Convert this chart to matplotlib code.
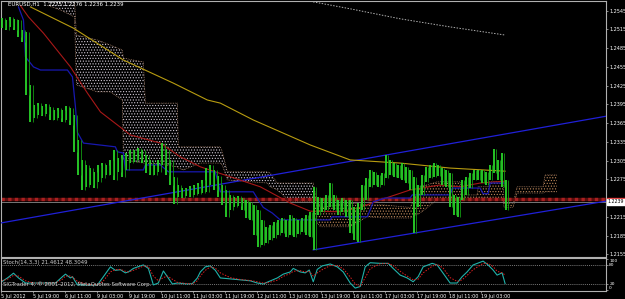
import numpy as np
import matplotlib
matplotlib.use('Agg')
import matplotlib.pyplot as plt
import matplotlib.transforms as mtransforms
from matplotlib.patches import Rectangle

plt.rcParams['hatch.linewidth'] = 0.5
plt.rcParams['font.family'] = ['Liberation Sans Narrow', 'DejaVu Sans']

# EURUSD H1, 5 Jul 2012 03:00 .. 19 Jul 2012, one entry per 2 hourly bars
highs = [1.2533, 1.2530, 1.2535, 1.2532, 1.2530, 1.2514, 1.2511, 1.2426, 1.2394, 1.2397,
         1.2392, 1.2396, 1.2391, 1.2386, 1.2389, 1.2386, 1.2392, 1.2389, 1.2378, 1.2338,
         1.2306, 1.2298, 1.2293, 1.2287, 1.2298, 1.2301, 1.2298, 1.2306, 1.2322, 1.2309,
         1.2314, 1.2317, 1.2322, 1.2322, 1.2325, 1.2322, 1.2314, 1.2306, 1.2298, 1.2306,
         1.2333, 1.2322, 1.2306, 1.2279, 1.2266, 1.2261, 1.2261, 1.2264, 1.2266, 1.2269,
         1.2274, 1.2293, 1.2298, 1.2290, 1.2280, 1.2266, 1.2258, 1.2250, 1.2247, 1.2248,
         1.2245, 1.2242, 1.2239, 1.2234, 1.2226, 1.2210, 1.2199, 1.2202, 1.2207, 1.2210,
         1.2213, 1.2210, 1.2218, 1.2213, 1.2210, 1.2213, 1.2218, 1.2223, 1.2263, 1.2247,
         1.2245, 1.2250, 1.2269, 1.2250, 1.2242, 1.2245, 1.2242, 1.2242, 1.2230, 1.2237,
         1.2266, 1.2277, 1.2290, 1.2287, 1.2282, 1.2285, 1.2314, 1.2306, 1.2301, 1.2298,
         1.2301, 1.2295, 1.2290, 1.2279, 1.2266, 1.2282, 1.2295, 1.2298, 1.2301, 1.2298,
         1.2293, 1.2290, 1.2285, 1.2250, 1.2247, 1.2274, 1.2279, 1.2285, 1.2290, 1.2290,
         1.2290, 1.2287, 1.2298, 1.2324, 1.2306, 1.2317, 1.2274]
lows = [1.2517, 1.2514, 1.2519, 1.2514, 1.2503, 1.2495, 1.2410, 1.2367, 1.2373, 1.2378,
        1.2376, 1.2380, 1.2370, 1.2370, 1.2373, 1.2367, 1.2370, 1.2362, 1.2319, 1.2282,
        1.2258, 1.2263, 1.2266, 1.2261, 1.2271, 1.2277, 1.2282, 1.2282, 1.2274, 1.2287,
        1.2279, 1.2290, 1.2301, 1.2303, 1.2306, 1.2301, 1.2285, 1.2282, 1.2282, 1.2287,
        1.2298, 1.2282, 1.2266, 1.2235, 1.2247, 1.2245, 1.2248, 1.2247, 1.2250, 1.2252,
        1.2253, 1.2255, 1.2266, 1.2258, 1.2247, 1.2234, 1.2215, 1.2226, 1.2230, 1.2232,
        1.2226, 1.2213, 1.2210, 1.2186, 1.2167, 1.2170, 1.2173, 1.2178, 1.2181, 1.2186,
        1.2189, 1.2183, 1.2186, 1.2183, 1.2188, 1.2191, 1.2186, 1.2183, 1.2162, 1.2218,
        1.2223, 1.2226, 1.2230, 1.2226, 1.2218, 1.2223, 1.2215, 1.2189, 1.2178, 1.2175,
        1.2226, 1.2242, 1.2263, 1.2266, 1.2263, 1.2266, 1.2277, 1.2282, 1.2279, 1.2277,
        1.2274, 1.2269, 1.2258, 1.2189, 1.2230, 1.2250, 1.2271, 1.2277, 1.2279, 1.2280,
        1.2266, 1.2263, 1.2230, 1.2218, 1.2215, 1.2242, 1.2250, 1.2261, 1.2274, 1.2274,
        1.2269, 1.2266, 1.2274, 1.2285, 1.2274, 1.2263, 1.2226]
last_close = 1.2239
hline_price = 1.2243

# moving averages (hour index, price)
ma_slow_h = [14.5, 36, 61, 86, 103, 109.5, 126, 154.5, 174.5, 199.5, 224.5, 241, 252]
ma_slow_p = [1.2551, 1.2517, 1.2466, 1.2429, 1.2402, 1.2397, 1.2370, 1.2330, 1.2306,
             1.2301, 1.2293, 1.2290, 1.2288]
ma_fast_h = [9.5, 13.5, 21, 34.5, 43, 49.5, 64.5, 79.5, 89.5, 99.5, 114.5, 129.5, 144.5,
             154.5, 169.5, 179.5, 189.5, 204.5, 219.5, 229.5, 239.5, 252]
ma_fast_p = [1.2553, 1.2535, 1.2509, 1.2455, 1.2413, 1.2383, 1.2346, 1.2333, 1.2311,
             1.2295, 1.2279, 1.2263, 1.2237, 1.2224, 1.2223, 1.2230, 1.2242, 1.2258,
             1.2266, 1.2263, 1.2269, 1.2272]
ma_long_h = [154.5, 174.5, 199.5, 224.5, 252]
ma_long_p = [1.2560, 1.2548, 1.2532, 1.2519, 1.2506]

# kijun-sen (step line)
kijun_h = [8.5, 11, 12, 16, 19.5, 33, 35.5, 37, 38, 41, 57, 58, 61, 62, 71, 72, 79.5, 83.5,
           107, 109.5, 126, 128.5, 131, 135.5, 139.5, 164.5, 165.5, 183, 184.5, 186, 192,
           204.5, 205.5, 224.5, 225.5, 239.5, 241, 243.5, 244.5, 252]
kijun_p = [1.2551, 1.2530, 1.2471, 1.2455, 1.2450, 1.2450, 1.2439, 1.2391, 1.2350, 1.2333,
           1.2327, 1.2319, 1.2317, 1.2290, 1.2290, 1.2298, 1.2298, 1.2287, 1.2287, 1.2255,
           1.2255, 1.2242, 1.2230, 1.2221, 1.2210, 1.2210, 1.2215, 1.2215, 1.2226, 1.2239,
           1.2245, 1.2245, 1.2250, 1.2250, 1.2261, 1.2261, 1.2252, 1.2252, 1.2269, 1.2269]

# ichimoku cloud
cloud_h = [23.5, 29.5, 36.5, 37.5, 48, 54.5, 60.5, 61, 71, 72, 82, 88, 88.5, 91, 99.5,
           109.5, 110.5, 113, 133, 134.5, 138, 144.5, 156, 157, 159.5, 174.5, 183, 191,
           204.5, 209.5, 218, 229.5, 230, 238, 238.5, 243.5, 244, 251, 251.5, 256, 258,
           271, 272, 278]
cloud_top = [1.2565, 1.2565, 1.2565, 1.2506, 1.2498, 1.2490, 1.2482, 1.2469, 1.2463, 1.2397,
             1.2397, 1.2397, 1.2327, 1.2327, 1.2327, 1.2327, 1.2319, 1.2287, 1.2287, 1.2285,
             1.2269, 1.2269, 1.2269, 1.2253, 1.2230, 1.2237, 1.2234, 1.2234, 1.2230, 1.2263,
             1.2271, 1.2271, 1.2250, 1.2250, 1.2263, 1.2263, 1.2271, 1.2271, 1.2237, 1.2237,
             1.2263, 1.2263, 1.2282, 1.2282]
cloud_bot = [1.2553, 1.2546, 1.2535, 1.2426, 1.2415, 1.2415, 1.2402, 1.2306, 1.2301, 1.2301,
             1.2298, 1.2295, 1.2293, 1.2290, 1.2301, 1.2301, 1.2298, 1.2274, 1.2269, 1.2263,
             1.2258, 1.2239, 1.2239, 1.2210, 1.2199, 1.2199, 1.2215, 1.2213, 1.2213, 1.2221,
             1.2242, 1.2242, 1.2242, 1.2242, 1.2245, 1.2245, 1.2242, 1.2242, 1.2230, 1.2230,
             1.2253, 1.2253, 1.2255, 1.2255]
cloud_switch = 156

# trend channel (hour index, price)
upper_line_h = [-0.5, 302.5]
upper_line_p = [1.2205, 1.2376]
lower_line_h = [156, 302.5]
lower_line_p = [1.2162, 1.2240]

# stochastic (14,3,3)
stoch_h = [0, 3, 6, 8.5, 12, 16, 23, 27, 30.5, 32, 34.5, 35.5, 38, 43, 48, 51, 54.5, 57,
           59.5, 62, 63.5, 66, 69.5, 71, 73.5, 76, 78.5, 81, 83, 85.5, 88, 93, 95.5, 98,
           99.5, 102, 104.5, 107, 109.5, 114.5, 119.5, 124.5, 128, 131, 133.5, 138, 141,
           144.5, 146, 149.5, 152, 154, 156, 158, 160.5, 164.5, 168, 171, 174.5, 177, 179.5,
           182, 184.5, 189.5, 193.5, 196, 199.5, 203, 206, 208.5, 211, 215.5, 218, 221,
           224.5, 228, 230.5, 233, 236, 241, 243.5, 246, 248, 250.5, 252]
stoch_main = [27, 39, 54, 39, 23, 23, 23, 23, 43, 51, 39, 43, 17, 17, 17, 43, 74, 63, 65,
              55, 58, 69, 77, 80, 69, 17, 23, 61, 43, 20, 23, 20, 21, 39, 58, 74, 77, 63,
              39, 36, 33, 30, 23, 20, 27, 39, 51, 58, 69, 58, 55, 64, 27, 66, 77, 83, 74,
              58, 23, 7, 12, 74, 87, 85, 85, 69, 48, 39, 27, 43, 74, 85, 80, 54, 23, 23, 43,
              58, 80, 92, 80, 64, 48, 55, 21.5]
stoch_signal = [30, 35, 47, 45, 30, 23, 23, 23, 35, 45, 45, 42, 28, 18, 17, 30, 58, 65, 66,
                60, 58, 63, 72, 77, 75, 45, 30, 40, 45, 35, 25, 21, 20, 30, 45, 63, 74, 70,
                55, 40, 34, 31, 27, 23, 24, 32, 44, 53, 60, 62, 58, 60, 45, 55, 65, 78, 78,
                68, 42, 20, 12, 40, 68, 84, 85, 78, 60, 45, 33, 35, 55, 76, 82, 70, 40, 28,
                33, 47, 65, 85, 85, 75, 60, 55, 48.3]

price_ticks = [1.2155, 1.2185, 1.2215, 1.2245, 1.2275, 1.2305, 1.2335, 1.2365, 1.2395,
               1.2425, 1.2455, 1.2485, 1.2515, 1.2545]
time_labels = ['5 Jul 2012', '5 Jul 19:00', '6 Jul 11:00', '9 Jul 03:00', '9 Jul 19:00',
               '10 Jul 11:00', '11 Jul 03:00', '11 Jul 19:00', '12 Jul 11:00',
               '13 Jul 03:00', '13 Jul 19:00', '16 Jul 11:00', '17 Jul 03:00',
               '17 Jul 19:00', '18 Jul 11:00', '19 Jul 03:00']

W, H = 625, 299
fig = plt.figure(figsize=(W / 100, H / 100), dpi=100, facecolor='black')
ax = fig.add_axes([0.5 / W, (H - 256.5) / H, 605.5 / W, 256 / H], facecolor='black')
ax2 = fig.add_axes([0.5 / W, (H - 290.5) / H, 605.5 / W, 32.5 / H], facecolor='black')

fs = 3.9
for a in (ax, ax2):
    a.set_xlim(-0.5, 302.5)
    for s in a.spines.values():
        s.set_color('#b0b0b0')
        s.set_linewidth(0.8)
    a.yaxis.tick_right()
    a.tick_params(colors='#c0c0c0', labelcolor='white', labelsize=3.5, length=1.5,
                  width=0.5, pad=0.8)

ax.set_ylim(1.21514, 1.25613)
ax.set_xticks([])
# the 1.2245 label sits under the price boxes
ax.set_yticks(price_ticks, ['' if t == 1.2245 else f'{t:.4f}' for t in price_ticks])

# ichimoku cloud
ch = np.array(cloud_h)
ct = np.array(cloud_top)
cb = np.array(cloud_bot)
ax.fill_between(ch, cb, ct, where=ch <= cloud_switch, interpolate=True, facecolor='none',
                edgecolor='#d0c8d4', hatch='......', linewidth=0, zorder=1)
ax.fill_between(ch, cb, ct, where=ch >= cloud_switch, interpolate=True, facecolor='none',
                edgecolor='#c08a5c', hatch='......', linewidth=0, zorder=1)
ax.plot(ch, ct, color='#c09070', lw=0.5, ls=(0, (1, 1.5)), zorder=1)
ax.plot(ch, cb, color='#c09070', lw=0.5, ls=(0, (1, 1.5)), zorder=1)

# horizontal level and bid line
ax.axhline(hline_price, color='#5a0c0c', lw=2.4, zorder=2)
ax.axhline(hline_price, color='#a82020', lw=2.4, ls=(0, (1, 1)), zorder=2)
ax.axhline(last_close, color='#8a8a8a', lw=0.6, zorder=2)

# channel, averages
ax.plot(upper_line_h, upper_line_p, color='#2020d8', lw=0.9, zorder=3)
ax.plot(lower_line_h, lower_line_p, color='#2020d8', lw=0.9, zorder=3)
ax.plot(ma_long_h, ma_long_p, color='#b0b0b0', lw=0.7, ls=(0, (1.5, 1.5)), zorder=3)
ax.plot(ma_slow_h, ma_slow_p, color='#b89c10', lw=0.8, zorder=3)
ax.plot(ma_fast_h, ma_fast_p, color='#a81818', lw=0.8, zorder=3)
ax.plot(kijun_h, kijun_p, color='#1818b0', lw=0.9, zorder=3)

# price bars
bar_h = np.arange(len(highs)) * 2 + 0.5
ax.vlines(bar_h, lows, highs, color='#2ad42a', lw=1.3, zorder=4)
ax.vlines(bar_h + 1.1, lows, highs, color='#129a12', lw=0.6, zorder=4)

ax.text(0.012, 0.995, 'EURUSD,H1  1.2275 1.2276 1.2236 1.2239', transform=ax.transAxes,
        color='white', fontsize=fs, va='top', ha='left')

# price label boxes on the axis
tr = mtransforms.blended_transform_factory(ax.transAxes, ax.transData)
ax.add_patch(Rectangle((1.002, 1.22405), 0.03, 0.00045, transform=tr, color='#e02020',
                       clip_on=False, zorder=5))
ax.text(1.003, last_close, f'{last_close:.4f}', transform=tr, color='black', fontsize=3.4,
        va='center', ha='left', clip_on=False, zorder=6,
        bbox=dict(boxstyle='square,pad=0.1', fc='white', ec='white'))

# stochastic panel
ax2.set_ylim(-0.6, 101.9)
ax2.set_yticks([100, 80, 20, 0], ['100', '80', '20', '0'])
for lbl, va in zip(ax2.get_yticklabels(), ['top', 'center', 'center', 'bottom']):
    lbl.set_va(va)
    lbl.set_fontsize(3.2)
ax2.axhline(80, color='#a0a0a0', lw=0.5, ls=(0, (1.5, 1.5)))
ax2.axhline(20, color='#a0a0a0', lw=0.5, ls=(0, (1.5, 1.5)))
ax2.plot(stoch_h, stoch_main, color='#20b2aa', lw=0.8)
ax2.plot(stoch_h, stoch_signal, color='#e02020', lw=0.7, ls=(0, (1.5, 1.5)))
ax2.set_xticks(np.arange(len(time_labels)) * 16, time_labels)
for lbl in ax2.get_xticklabels():
    lbl.set_ha('left')
    lbl.set_fontsize(3.5)
ax2.text(0.004, 0.93, 'Stoch(14,3,3) 21.4612 48.3049', transform=ax2.transAxes,
         color='#d0d0d0', fontsize=fs, va='top', ha='left')
ax2.text(0.004, 0.12, 'SIGTrader 4, \u00a9 2001-2012, MetaQuotes Software Corp.',
         transform=ax2.transAxes, color='#d0d0d0', fontsize=fs, va='bottom', ha='left')

fig.savefig('out.png', dpi=100, facecolor='black')
